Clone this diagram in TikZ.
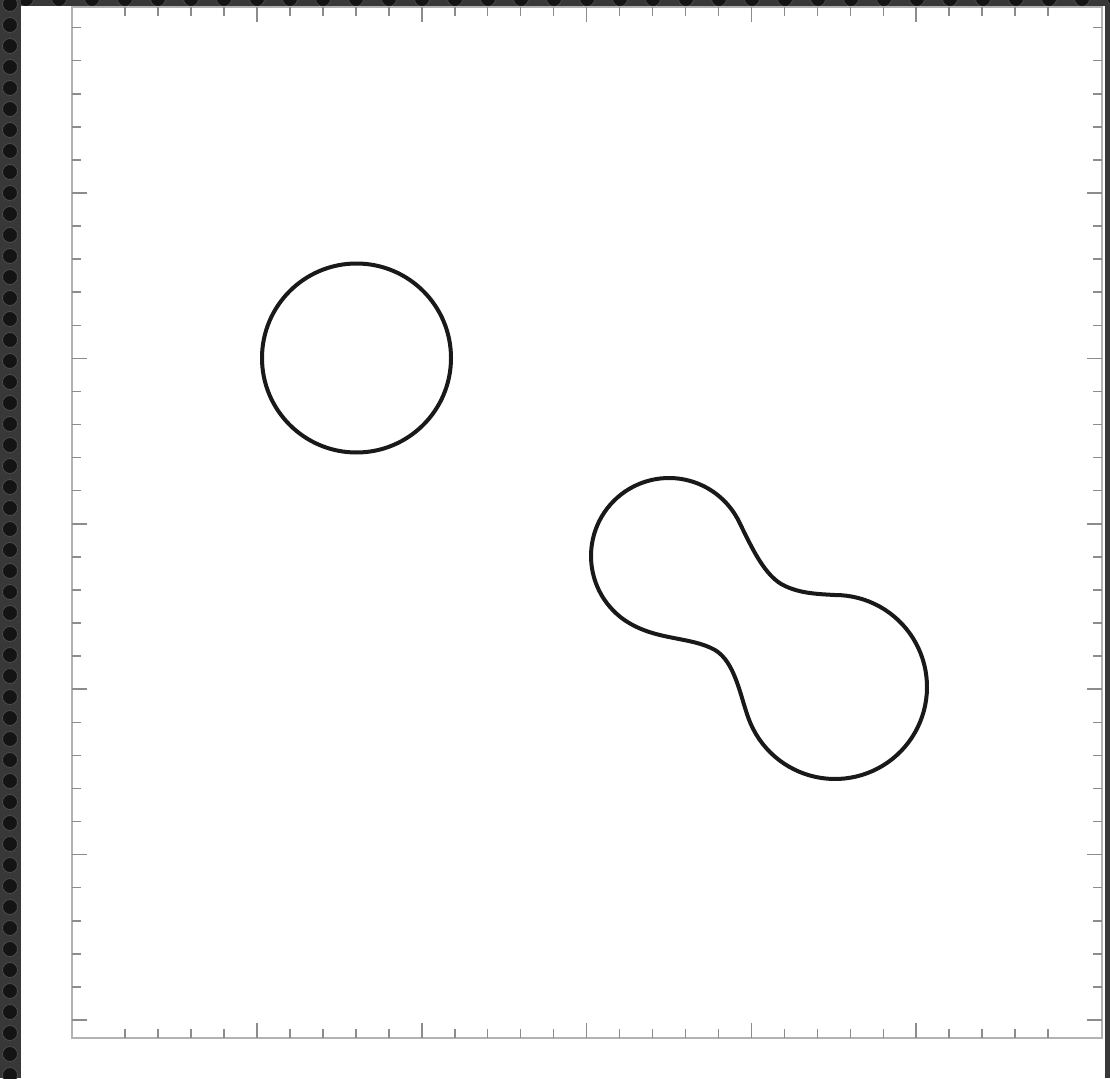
\documentclass[tikz,border=0pt]{standalone}
\begin{document}
\begin{tikzpicture}[x={(1pt,0)},y={(0,-1pt)},
  curve/.style={draw=black!90,line width=4pt,line join=round},
  frameline/.style={draw=black!30,line width=2pt},
  tickline/.style={draw=black!45,line width=1.5pt},
  hole/.style={fill=black!92,draw=black!70,line width=0.8pt}]
\useasboundingbox (0,0) rectangle (1110,1078);
% dark surround
\fill[black!78] (0,0) rectangle (1110,1078);
\begin{scope}
\clip (0,0) rectangle (21,1078);
\foreach \k in {0,...,51} \path[hole] (10,{4+21*\k}) circle[radius=7.5];
\end{scope}
\begin{scope}
\clip (21,0) rectangle (1110,6);
\foreach \k in {0,...,33} \path[hole] ({26+33*\k},-1) circle[radius=7.5];
\end{scope}
\fill[white] (21,6) rectangle (1105,1078);
% frame
\draw[frameline] (72,7) rectangle (1102,1038);
% x ticks (bottom and top)
\foreach \i in {-4,...,24}{
  \pgfmathsetmacro\xx{257+32.96*\i}
  \pgfmathtruncatemacro\mm{mod(\i+100,5)}
  \ifnum\mm=0 \def\tl{15}\else\def\tl{9}\fi
  \draw[tickline] (\xx,1038) -- ++(0,-\tl);
  \draw[tickline] (\xx,7) -- ++(0,\tl);
}
% y ticks (left and right)
\foreach \j in {-5,...,25}{
  \pgfmathsetmacro\yy{193+33.08*\j}
  \pgfmathtruncatemacro\mm{mod(\j+100,5)}
  \ifnum\mm=0 \def\tl{15}\else\def\tl{9}\fi
  \ifnum\j=-5 \def\tl{9}\fi
  \draw[tickline] (72,\yy) -- ++(\tl,0);
  \draw[tickline] (1102,\yy) -- ++(-\tl,0);
}
% circle
\draw[curve] (356.5,358) circle[radius=94.5];
% peanut shape: two lobes joined by smooth necks
\draw[curve] plot[domain=25:235,samples=60] ({669+78*cos(\x)},{556-78*sin(\x)})
  .. controls (655,641) and (690,636) .. (715,650)
  .. controls (735,662) and (740,695) .. (748.55,718.47)
  -- plot[domain=200:450,samples=70] ({835+92*cos(\x)},{687-92*sin(\x)})
  .. controls (815,594) and (800,593) .. (785,586)
  .. controls (765,577) and (752,548) .. cycle;
\end{tikzpicture}
\end{document}
